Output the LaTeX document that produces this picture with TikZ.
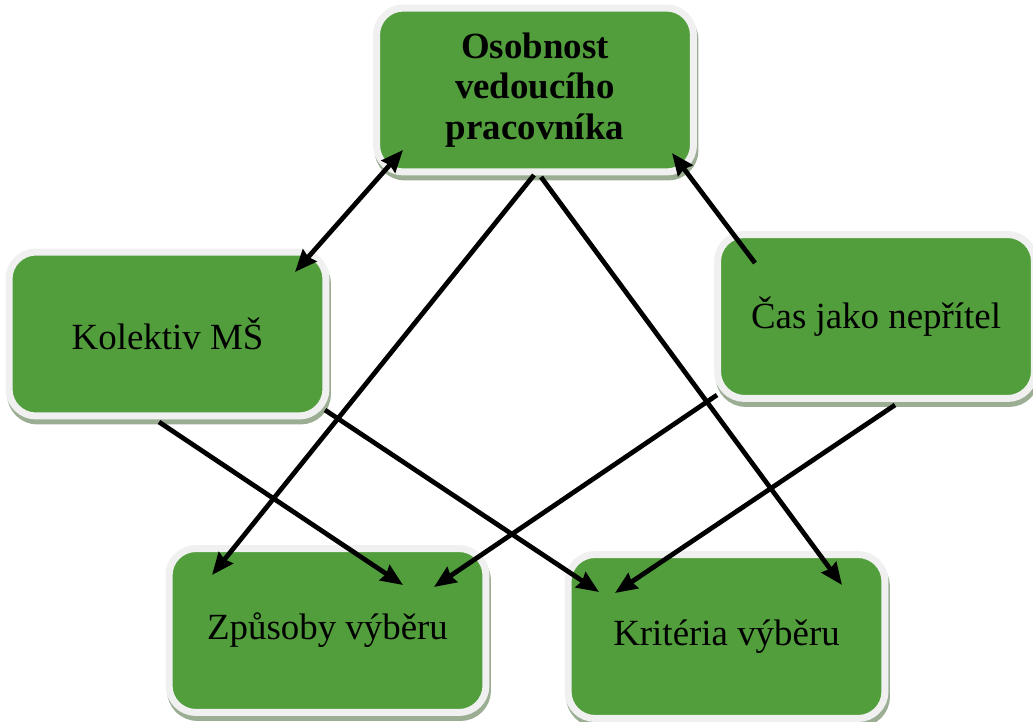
\documentclass[tikz,border=0pt]{standalone}
\usepackage{fontspec}
\setmainfont{Liberation Serif}
\usetikzlibrary{arrows.meta,shadows}
\definecolor{boxgreen}{RGB}{82,158,60}
\definecolor{boxrim}{RGB}{240,240,240}
\definecolor{rimshadow}{RGB}{155,174,147}
\begin{document}
\begin{tikzpicture}[x=0.02cm,y=-0.02cm,>={Stealth[length=0.44cm,width=0.36cm,inset=0.04cm]},
	box/.style={rectangle,rounded corners=0.54cm,fill=boxgreen,draw=boxrim,line width=0.14cm,minimum width=6.34cm,minimum height=3.28cm,align=center,font=\fontsize{21}{23}\selectfont,drop shadow={shadow xshift=0.03cm,shadow yshift=-0.1cm,fill=rimshadow,draw=rimshadow,opacity=1}},
	arr/.style={->,line width=0.095cm}]
	\useasboundingbox (0,0) rectangle (1033,722);
	\node[box] (top) at (535,90) {\textbf{Osobnost}\\\textbf{vedoucího}\\\textbf{pracovníka}};
	\node[box] (kolektiv) at (167.5,334) {Kolektiv MŠ};
	\node[box] (cas) at (876,316.5) {Čas jako nepřítel};
	\node[box] (zpusoby) at (327.5,630.5) {Způsoby výběru};
	\node[box] (kriteria) at (726.5,636.5) {Kritéria výběru};
	\draw[arr,<->] ([shift={(127.5,-62)}]kolektiv.center) -- ([shift={(-132,60)}]top.center);
	\draw[arr] ([shift={(-1,85)}]top.center) -- ([shift={(-115.5,-55.5)}]zpusoby.center);
	\draw[arr] ([shift={(6,87)}]top.center) -- ([shift={(115.5,-51.5)}]kriteria.center);
	\draw[arr] ([shift={(-121,-53.5)}]cas.center) -- ([shift={(137,63)}]top.center);
	\draw[arr] ([shift={(-8.5,88)}]kolektiv.center) -- ([shift={(75.5,-45.5)}]zpusoby.center);
	\draw[arr] ([shift={(157.5,76)}]kolektiv.center) -- ([shift={(-127.5,-44.5)}]kriteria.center);
	\draw[arr] ([shift={(-159,78.5)}]cas.center) -- ([shift={(106.5,-43.5)}]zpusoby.center);
	\draw[arr] ([shift={(19,88.5)}]cas.center) -- ([shift={(-111.5,-43.5)}]kriteria.center);
\end{tikzpicture}
\end{document}
